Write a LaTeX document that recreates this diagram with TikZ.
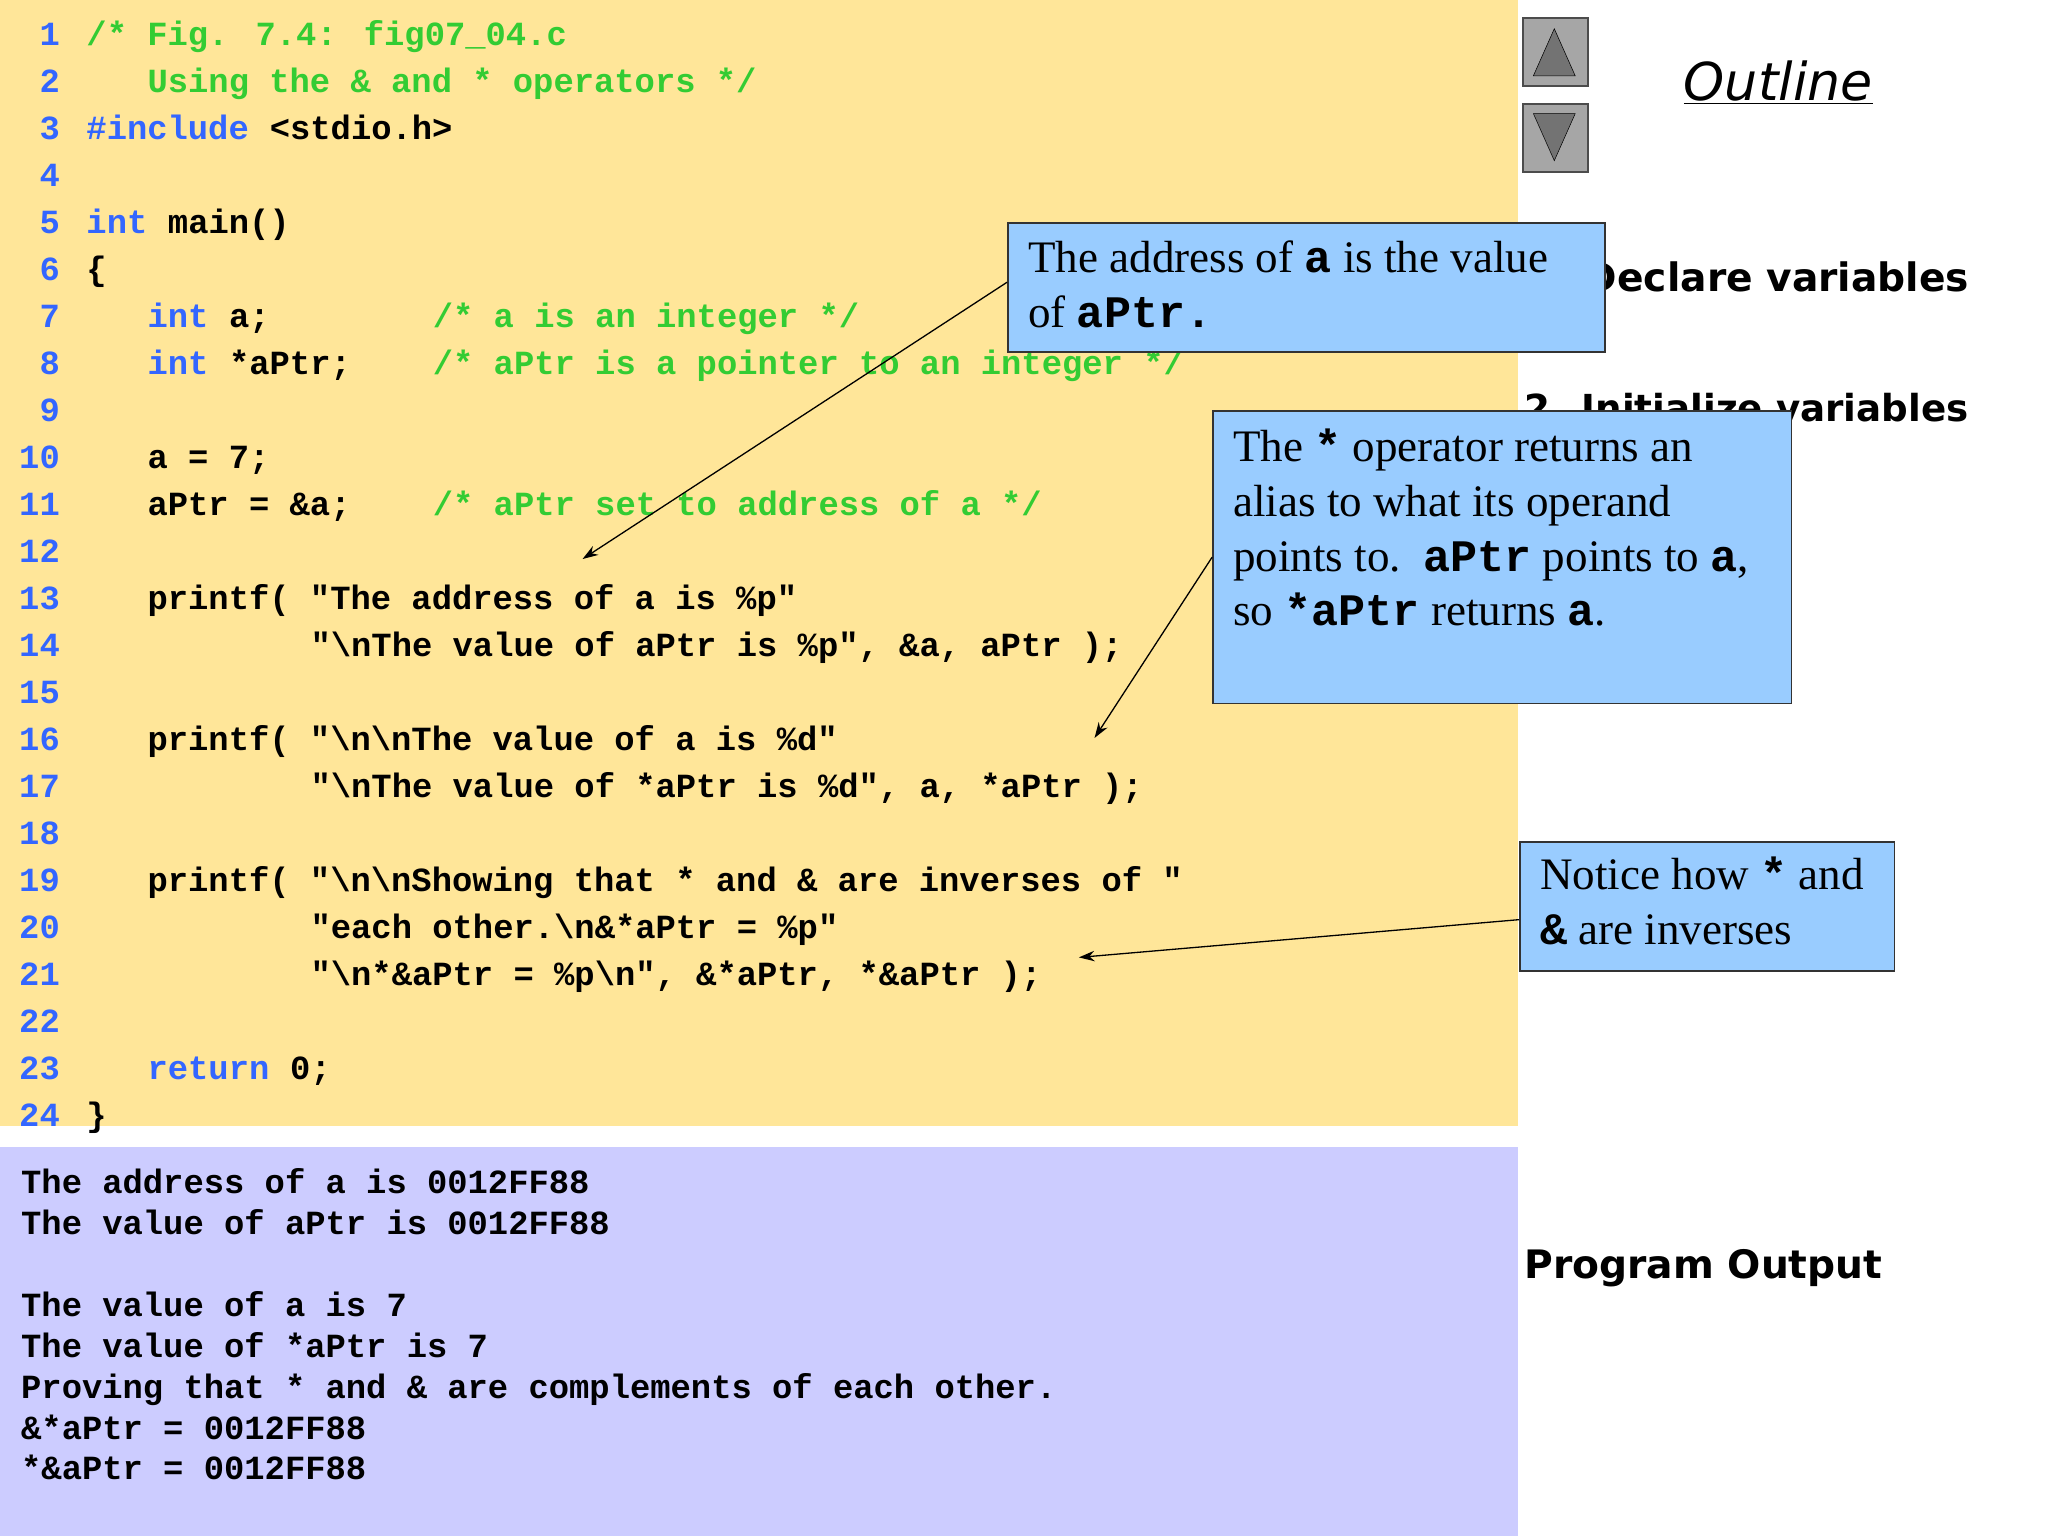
\documentclass[tikz,border=0pt]{standalone}
\usepackage{fontspec}
\setmainfont{Liberation Serif}
\newfontfamily\codefam{Liberation Mono}
\newfontfamily\sansfam{DejaVu Sans}
\usetikzlibrary{arrows.meta}
\definecolor{codebg}{RGB}{255,230,153}
\definecolor{outbg}{RGB}{204,204,255}
\definecolor{cmt}{RGB}{51,204,51}
\definecolor{kw}{RGB}{51,102,255}
\definecolor{callbg}{RGB}{153,204,255}
\newcommand{\code}{\codefam\bfseries\fontsize{25.9}{30}\selectfont}
\newcommand{\cmono}{\codefam\bfseries}
\tikzset{
  cl/.style={anchor=base west,inner sep=0,font=\code},
  ln/.style={anchor=base east,inner sep=0,font=\code,text=kw},
  callout/.style={draw=black!80,line width=1.2pt,fill=callbg,anchor=north west,inner sep=0},
  ctext/.style={anchor=north west,inner sep=0,align=left,font=\fontsize{34.5}{42}\selectfont},
  side/.style={anchor=base west,inner sep=0,font=\sansfam\bfseries\fontsize{30}{34}\selectfont},
  arr/.style={-{Stealth[length=12pt,width=8pt]},line width=1pt},
  btn/.style={draw=black!70,line width=1.5pt,fill=black!35}
}
\begin{document}
\begin{tikzpicture}[x=1pt,y=-1pt]
\useasboundingbox (0,0) rectangle (1568,1176);
\fill[white] (0,0) rectangle (1568,1176);
\fill[codebg] (0,0) rectangle (1162,862);
\fill[outbg] (0,878) rectangle (1162,1176);
\foreach \i in {1,...,24}{
  \node[ln] (n\i) at (46,{35+(\i-1)*35.96}) {\i};
}
\def\X#1{{66+#1*15.6}}
\def\Y#1{{35+(#1-1)*35.96}}
\node[cl,text=cmt] (l1) at (\X{0},\Y{1}) {/* Fig. 7.4: fig07\_04.c};
\node[cl,text=cmt] (l2) at (\X{3},\Y{2}) {Using the \& and * operators */};
\node[cl,text=kw] (l3a) at (\X{0},\Y{3}) {\#include};
\node[cl] (l3b) at (\X{9},\Y{3}) {<stdio.h>};
\node[cl,text=kw] (l5a) at (\X{0},\Y{5}) {int};
\node[cl] (l5b) at (\X{4},\Y{5}) {main()};
\node[cl] (l6) at (\X{0},\Y{6}) {\{};
\node[cl,text=kw] (l7a) at (\X{3},\Y{7}) {int};
\node[cl] (l7b) at (\X{7},\Y{7}) {a;};
\node[cl,text=cmt] (l7c) at (\X{17},\Y{7}) {/* a is an integer */};
\node[cl,text=kw] (l8a) at (\X{3},\Y{8}) {int};
\node[cl] (l8b) at (\X{7},\Y{8}) {*aPtr;};
\node[cl,text=cmt] (l8c) at (\X{17},\Y{8}) {/* aPtr is a pointer to an integer */};
\node[cl] (l10) at (\X{3},\Y{10}) {a = 7;};
\node[cl] (l11a) at (\X{3},\Y{11}) {aPtr = \&a;};
\node[cl,text=cmt] (l11b) at (\X{17},\Y{11}) {/* aPtr set to address of a */};
\node[cl] (l13) at (\X{3},\Y{13}) {printf( "The address of a is \%p"};
\node[cl] (l14) at (\X{11},\Y{14}) {"\textbackslash nThe value of aPtr is \%p", \&a, aPtr );};
\node[cl] (l16) at (\X{3},\Y{16}) {printf( "\textbackslash n\textbackslash nThe value of a is \%d"};
\node[cl] (l17) at (\X{11},\Y{17}) {"\textbackslash nThe value of *aPtr is \%d", a, *aPtr );};
\node[cl] (l19) at (\X{3},\Y{19}) {printf( "\textbackslash n\textbackslash nShowing that * and \& are inverses of "};
\node[cl] (l20) at (\X{11},\Y{20}) {"each other.\textbackslash n\&*aPtr = \%p"};
\node[cl] (l21) at (\X{11},\Y{21}) {"\textbackslash n*\&aPtr = \%p\textbackslash n", \&*aPtr, *\&aPtr );};
\node[cl,text=kw] (l23a) at (\X{3},\Y{23}) {return};
\node[cl] (l23b) at (\X{10},\Y{23}) {0;};
\node[cl] (l24) at (\X{0},\Y{24}) {\}};
\node[cl] (o1) at (16,914) {The address of a is 0012FF88};
\node[cl] (o2) at (16,945) {The value of aPtr is 0012FF88};
\node[cl] (o3) at (16,1008) {The value of a is 7};
\node[cl] (o4) at (16,1039) {The value of *aPtr is 7};
\node[cl] (o5) at (16,1071) {Proving that * and \& are complements of each other.};
\node[cl] (o6) at (16,1102) {\&*aPtr = 0012FF88};
\node[cl] (o7) at (16,1133) {*\&aPtr = 0012FF88};
\node[btn,minimum width=50,minimum height=52,anchor=north west] (up) at (1165,13) {};
\fill[black!55,draw=black] (1174,58) -- (1206,58) -- (1190,22) -- cycle;
\node[btn,minimum width=50,minimum height=52,anchor=north west] (down) at (1165,79) {};
\fill[black!55,draw=black] (1174,87) -- (1206,87) -- (1190,123) -- cycle;
\node[anchor=base west,inner sep=0,font=\sansfam\fontsize{40}{44}\selectfont] (outl) at (1289,77) {\underline{\textit{Outline}}};
\node[side] (s1) at (1167,223) {1. Declare variables};
\node[side,font=\sansfam\bfseries\fontsize{28.5}{34}\selectfont] (s2) at (1167,323) {2. Initialize variables};
\node[side] (s3) at (1167,979) {Program Output};
\node[callout,minimum width=457,minimum height=99] (c1) at (771,170) {};
\node[ctext] (t1) at (787,184) {The address of {\cmono a} is the value\\of {\cmono aPtr.}};
\node[callout,minimum width=443,minimum height=224] (c2) at (928,314) {};
\node[ctext] (t2) at (944,328) {The {\cmono *} operator returns an\\alias to what its operand\\points to.\ \ {\cmono aPtr} points to {\cmono a},\\so {\cmono *aPtr} returns {\cmono a}.};
\node[callout,minimum width=287,minimum height=99] (c3) at (1163,644) {};
\node[ctext] (t3) at (1179,656) {Notice how {\cmono *} and\\{\cmono \&} are inverses};
\coordinate (e1) at (446,428);
\coordinate (e2) at (838,565);
\coordinate (e3) at (826,733);
\draw[arr] ([yshift=4pt]c1.west) -- (e1);
\draw[arr] (c2.west) -- (e2);
\draw[arr] ([yshift=-10pt]c3.west) -- (e3);
\end{tikzpicture}
\end{document}
